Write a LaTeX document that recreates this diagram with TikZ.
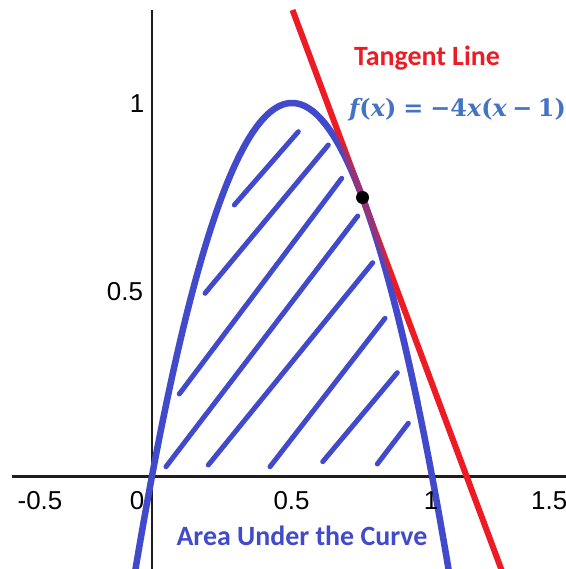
\documentclass[tikz,border=0pt]{standalone}
\usepackage{fontspec}
\setmainfont{Liberation Sans}
\newfontfamily\calibrifont{Carlito}
\newfontfamily\fmlfont{DejaVu Serif}
\definecolor{curveblue}{RGB}{66,74,204}
\definecolor{tanred}{RGB}{237,28,36}
\definecolor{formulablue}{RGB}{68,114,196}
\definecolor{axisgray}{RGB}{30,30,30}
\newcommand{\fmlit}[1]{{\itshape #1}}
\newcommand{\fmltext}{\fmlit{f}(\fmlit{x})\hspace{7bp}=\hspace{7bp}−4\fmlit{x}(\fmlit{x}\hspace{5.5bp}−\hspace{5.5bp}1)}
\tikzset{
  axisline/.style={line width=2.5bp, draw=axisgray},
  curveline/.style={line width=6.5bp, draw=curveblue},
  tanline/.style={line width=6bp, draw=tanred},
  hatchline/.style={line width=5bp, draw=curveblue, line cap=round},
  ticklabel/.style={font=\fontsize{26}{30}\selectfont, inner sep=0pt, text=black},
  titlelabel/.style={font=\calibrifont\bfseries\fontsize{28}{32}\selectfont, inner sep=0pt},
  formulalabel/.style={font=\fmlfont\bfseries\fontsize{24}{28}\selectfont, inner sep=0pt, text=formulablue},
}
\begin{document}
\begin{tikzpicture}[x=1bp,y=-1bp]
\useasboundingbox (0,0) rectangle (566,569);
\begin{scope}
\clip (0,0) rectangle (566,569);
% axes
\coordinate (xl) at (12,476.5);
\coordinate (xr) at (566,476.5);
\coordinate (yt) at (152,10);
\coordinate (yb) at (152,569);
\draw[axisline] (xl) -- (xr);
\draw[axisline] (yt) -- (yb);
% hatching
\coordinate (h1a) at (298.3,131.7); \coordinate (h1b) at (234.3,205);
\coordinate (h2a) at (328.3,145);   \coordinate (h2b) at (205,293.3);
\coordinate (h3a) at (341.7,178.3); \coordinate (h3b) at (179.3,394);
\coordinate (h4a) at (357.7,216);   \coordinate (h4b) at (166,466.7);
\coordinate (h5a) at (372.7,262.7); \coordinate (h5b) at (208.3,465);
\coordinate (h6a) at (385,318.3);   \coordinate (h6b) at (270,466.7);
\coordinate (h7a) at (397.3,372.7); \coordinate (h7b) at (322.7,461.7);
\coordinate (h8a) at (408.3,423.3); \coordinate (h8b) at (377.3,464);
\draw[hatchline] (h1a) -- (h1b);
\draw[hatchline] (h2a) -- (h2b);
\draw[hatchline] (h3a) -- (h3b);
\draw[hatchline] (h4a) -- (h4b);
\draw[hatchline] (h5a) -- (h5b);
\draw[hatchline] (h6a) -- (h6b);
\draw[hatchline] (h7a) -- (h7b);
\draw[hatchline] (h8a) -- (h8b);
% parabola
\draw[curveline] plot[domain=-0.075:1.075, samples=240, smooth] ({152+280*\x},{476-373*(-4*\x*(\x-1))});
% tangent line y = 2.25 - 2x
\coordinate (tt) at (292.5,10);
\coordinate (tb) at (502.3,572);
\draw[tanline] (tt) -- (tb);
% overlap tint
\draw[curveline, draw opacity=0.5] plot[domain=0.6:0.95, samples=120, smooth] ({152+280*\x},{476-373*(-4*\x*(\x-1))});
\end{scope}
% tangent point
\node[circle, fill=black, inner sep=0pt, minimum size=13bp] (tp) at (362.5,197.5) {};
% labels
\node[ticklabel] (lxm) at (40,501) {-0.5};
\node[ticklabel] (lx0) at (137,501) {0};
\node[ticklabel] (lx05) at (291.5,501) {0.5};
\node[ticklabel] (lx1) at (431,501) {1};
\node[ticklabel, anchor=west] (lx15) at (531,501) {1.5};
\node[ticklabel] (ly1) at (137,104) {1};
\node[ticklabel] (ly05) at (125,292) {0.5};
\node[titlelabel, text=tanred] (tanlabel) at (427,58) {Tangent Line};
\node[titlelabel, text=curveblue] (arealabel) at (302,536) {Area Under the Curve};
\node[formulalabel, anchor=base west] (fml) at (349,117) {\fmltext};
\end{tikzpicture}
\end{document}
